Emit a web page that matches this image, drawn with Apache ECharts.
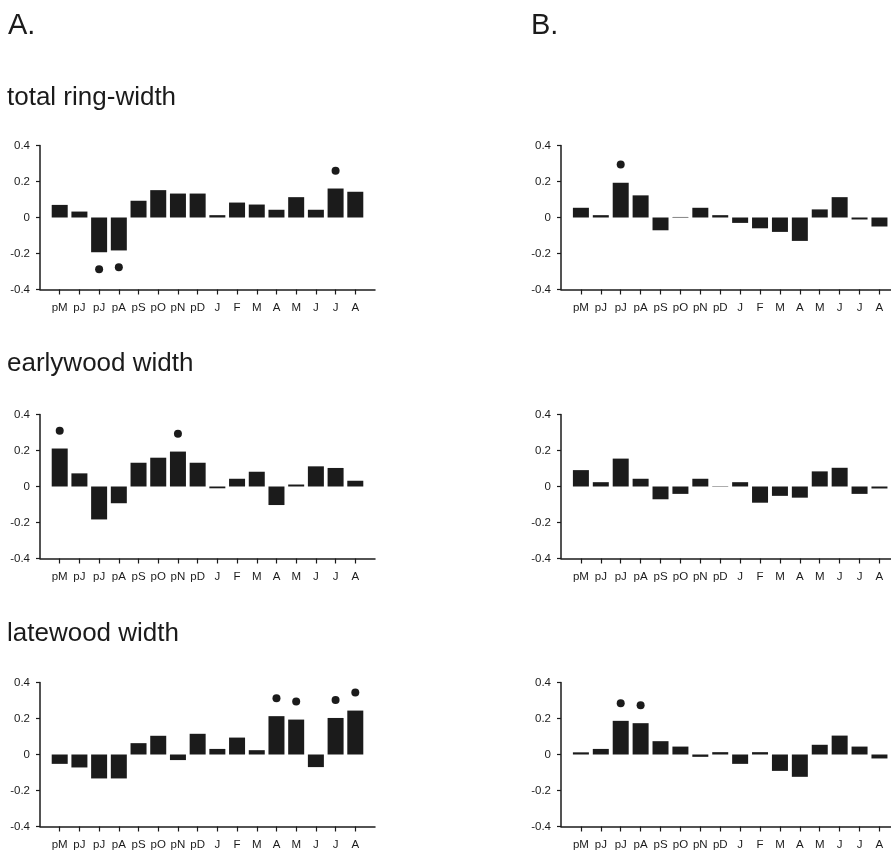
<!DOCTYPE html>
<html>
<head>
<meta charset="utf-8">
<script src="https://cdn.jsdelivr.net/npm/echarts@6/dist/echarts.min.js"></script>
<style>
  html, body { margin: 0; padding: 0; background: #fff; }
  #main_chart { width: 891px; height: 855px; }
</style>
</head>
<body>
<div id="main_chart"></div>
<script>
// month labels (p = previous year)
var months = ['pM','pJ','pJ','pA','pS','pO','pN','pD','J','F','M','A','M','J','J','A'];
var yTicks = [-0.4, -0.2, 0, 0.2, 0.4];

// A. column
var totalA = [0.07, 0.033, -0.193, -0.183, 0.093, 0.152, 0.133, 0.133, 0.013, 0.083, 0.072, 0.043, 0.113, 0.043, 0.161, 0.143];
var earlyA = [0.211, 0.073, -0.183, -0.093, 0.132, 0.16, 0.194, 0.132, -0.01, 0.043, 0.082, -0.103, 0.011, 0.112, 0.103, 0.032];
var lateA  = [-0.052, -0.072, -0.133, -0.133, 0.063, 0.104, -0.031, 0.115, 0.031, 0.094, 0.024, 0.213, 0.194, -0.07, 0.203, 0.244];
// B. column
var totalB = [0.054, 0.013, 0.193, 0.123, -0.071, 0.003, 0.054, 0.013, -0.03, -0.06, -0.08, -0.13, 0.045, 0.113, -0.011, -0.05];
var earlyB = [0.091, 0.024, 0.155, 0.043, -0.071, -0.041, 0.043, -0.002, 0.024, -0.09, -0.052, -0.062, 0.084, 0.104, -0.041, -0.011];
var lateB  = [0.012, 0.031, 0.187, 0.174, 0.074, 0.044, -0.013, 0.013, -0.052, 0.013, -0.091, -0.124, 0.054, 0.105, 0.044, -0.022];

// significance dots (null = none)
var totalA_dots = [null, null, -0.287, -0.276, null, null, null, null, null, null, null, null, null, null, 0.26, null];
var earlyA_dots = [0.31, null, null, null, null, null, 0.293, null, null, null, null, null, null, null, null, null];
var lateA_dots  = [null, null, null, null, null, null, null, null, null, null, null, 0.312, 0.294, null, 0.303, 0.344];
var totalB_dots = [null, null, 0.294, null, null, null, null, null, null, null, null, null, null, null, null, null];
var earlyB_dots = [null, null, null, null, null, null, null, null, null, null, null, null, null, null, null, null];
var lateB_dots  = [null, null, 0.285, 0.274, null, null, null, null, null, null, null, null, null, null, null, null];

var rowNames = ['total ring-width', 'earlywood width', 'latewood width'];
var panels = [
  [totalA, totalA_dots, totalB, totalB_dots],
  [earlyA, earlyA_dots, earlyB, earlyB_dots],
  [lateA, lateA_dots, lateB, lateB_dots]
];

var FONT = 'Liberation Sans, Arial, Helvetica, sans-serif';
var INK = '#1b1b1b';
var rowTop = [145.5, 414.5, 682.5];
var colLeft = [40, 561];
var colWidth = [335, 330];
var colMax = [16, 15.58];

var myChart = echarts.init(document.getElementById('main_chart'));

var grids = [], xAxes = [], yAxes = [], mySeries = [];
var tickIdx = months.map(function(m, i){ return i; });

for (var r = 0; r < 3; r++) {
  for (var c = 0; c < 2; c++) {
    var gi = grids.length;
    grids.push({ left: colLeft[c], top: rowTop[r], width: colWidth[c], height: 144, containLabel: false });
    xAxes.push({
      type: 'value', gridIndex: gi, min: -1, max: colMax[c],
      axisLine: { show: true, onZero: false, lineStyle: { color: INK, width: 1.5 } },
      axisTick: { show: true, customValues: tickIdx, length: 5, lineStyle: { color: INK, width: 1.2 } },
      axisLabel: {
        show: true, customValues: tickIdx, margin: 12,
        color: INK, fontSize: 11.5, fontFamily: FONT,
        formatter: function(v){ return months[Math.round(v)] || ''; }
      },
      splitLine: { show: false }
    });
    yAxes.push({
      type: 'value', gridIndex: gi, min: -0.4, max: 0.4, interval: 0.2,
      axisLine: { show: true, onZero: false, lineStyle: { color: INK, width: 1.5 } },
      axisTick: { show: true, length: 4, lineStyle: { color: INK, width: 1.2 } },
      axisLabel: {
        color: INK, fontSize: 11.5, fontFamily: FONT, margin: 10,
        formatter: function(v){ return String(Math.round(v * 10) / 10); }
      },
      splitLine: { show: false }
    });
    var vals = panels[r][c * 2];
    var dots = panels[r][c * 2 + 1];
    mySeries.push({
      type: 'bar', xAxisIndex: gi, yAxisIndex: gi, barWidth: 16,
      itemStyle: { color: INK },
      data: vals.map(function(v, i){ return [i, v]; }),
      silent: true
    });
    var dotData = [];
    for (var k = 0; k < dots.length; k++) {
      if (dots[k] !== null) dotData.push([k, dots[k]]);
    }
    mySeries.push({
      type: 'scatter', xAxisIndex: gi, yAxisIndex: gi, symbol: 'circle', symbolSize: 8,
      itemStyle: { color: INK, opacity: 1 },
      data: dotData,
      silent: true
    });
  }
}

var titles = [
  { text: 'A.', left: 8, top: 11, padding: 0, textStyle: { fontSize: 29, fontWeight: 'normal', color: INK, fontFamily: FONT } },
  { text: 'B.', left: 531, top: 11, padding: 0, textStyle: { fontSize: 29, fontWeight: 'normal', color: INK, fontFamily: FONT } }
];
var rowTitleTop = [85, 351, 621];
for (var t = 0; t < 3; t++) {
  titles.push({
    text: rowNames[t], left: 7, top: rowTitleTop[t], padding: 0,
    textStyle: { fontSize: 26, fontWeight: 'normal', color: INK, fontFamily: FONT }
  });
}

var option = {
  animation: false,
  backgroundColor: '#fff',
  title: titles,
  grid: grids,
  xAxis: xAxes,
  yAxis: yAxes,
  series: mySeries
};

myChart.setOption(option);
</script>
</body>
</html>
